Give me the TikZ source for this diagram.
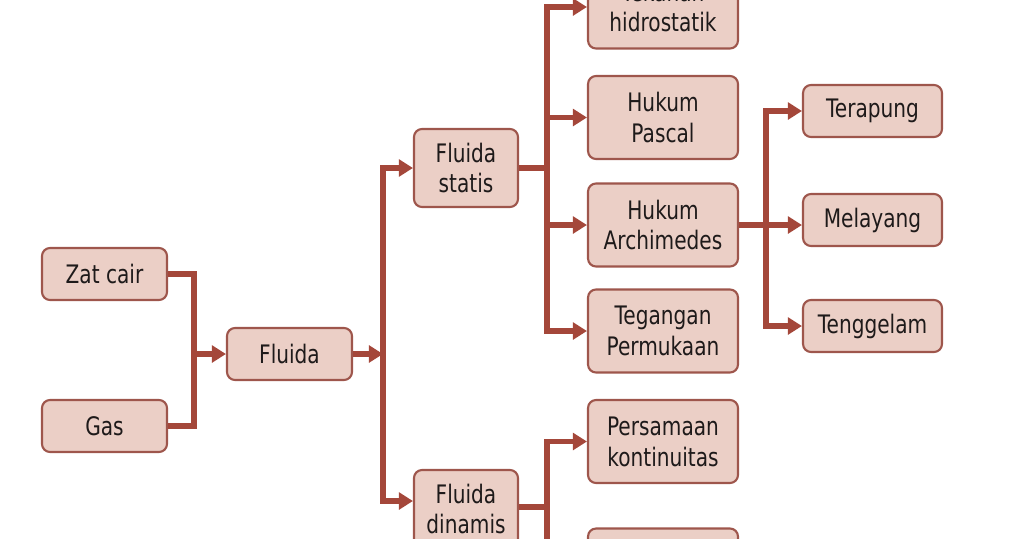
\documentclass[tikz,border=0pt]{standalone}
\usepackage{fontspec}
\setmainfont{DejaVu Sans}[FakeStretch=0.79]
\usetikzlibrary{arrows.meta,calc}
\definecolor{boxfill}{HTML}{EBCFC6}
\definecolor{boxline}{HTML}{9E564C}
\definecolor{conn}{HTML}{A4473A}
\definecolor{txt}{HTML}{1E1A1A}
\begin{document}
\begin{tikzpicture}[x=0.02cm,y=-0.02cm,
  box/.style={draw=boxline, fill=boxfill, line width=1.2pt, rounded corners=0.16cm,
    align=center, inner sep=0pt, text=txt, font=\fontsize{14.5}{17.6}\selectfont},
  bsmall/.style={box, minimum width=2.5cm, minimum height=1.04cm},
  bstat/.style={box, minimum width=2.08cm, minimum height=1.56cm},
  bmid/.style={box, minimum width=3.0cm, minimum height=1.66cm},
  bright/.style={box, minimum width=2.78cm, minimum height=1.04cm},
  link/.style={draw=conn, line width=3.3pt},
  arr/.style={link, -{Triangle[length=8pt,width=9.5pt]}}]
\path[use as bounding box, clip] (0,0) rectangle (1024,538);

\node[bsmall] (zat) at (104.5,274) {Zat cair};
\node[bsmall] (gas) at (104.5,426) {Gas};
\node[bsmall] (fluida) at (289.5,354) {Fluida};
\node[bstat] (statis) at (466,168) {Fluida\\statis};
\node[bstat] (dinamis) at (466,509) {Fluida\\dinamis};
\node[bmid] (hidro) at (663,7) {Tekanan\\hidrostatik};
\node[bmid] (pascal) at (663,117.5) {Hukum\\Pascal};
\node[bmid] (arch) at (663,225) {Hukum\\Archimedes};
\node[bmid] (tegangan) at (663,331) {Tegangan\\Permukaan};
\node[bmid] (kont) at (663,441.5) {Persamaan\\kontinuitas};
\node[bmid] (bern) at (663,570) {Hukum\\Bernoulli};
\node[bright] (terapung) at (872.5,111) {Terapung};
\node[bright] (melayang) at (872.5,220) {Melayang};
\node[bright] (tenggelam) at (872.5,326) {Tenggelam};

\coordinate (j1) at (194,354);
\coordinate (j2) at (383,354);
\coordinate (j3) at (547,168);
\coordinate (j4) at (547,507);
\coordinate (j5) at (766,225);

\draw[link] (zat.east) -| (j1);
\draw[link] (gas.east) -| (j1);
\draw[arr] (j1) -- (fluida.west);

\draw[arr] (fluida.east) -- (j2);
\draw[arr] (j2) |- (statis.west);
\draw[arr] (j2) |- ($(dinamis.west)+(0,-8)$);

\draw[link] (statis.east) -- (j3);
\draw[arr] (j3) |- (hidro.west);
\draw[arr] (j3) |- (pascal.west);
\draw[arr] (j3) |- (arch.west);
\draw[arr] (j3) |- (tegangan.west);

\draw[link] ($(dinamis.east)+(0,-2)$) -- (j4);
\draw[arr] (j4) |- (kont.west);
\draw[arr] (j4) |- (bern.west);

\draw[link] (arch.east) -- (j5);
\draw[arr] (j5) |- (terapung.west);
\draw[arr] (j5) -- (j5 -| melayang.west);
\draw[arr] (j5) |- (tenggelam.west);
\end{tikzpicture}
\end{document}
